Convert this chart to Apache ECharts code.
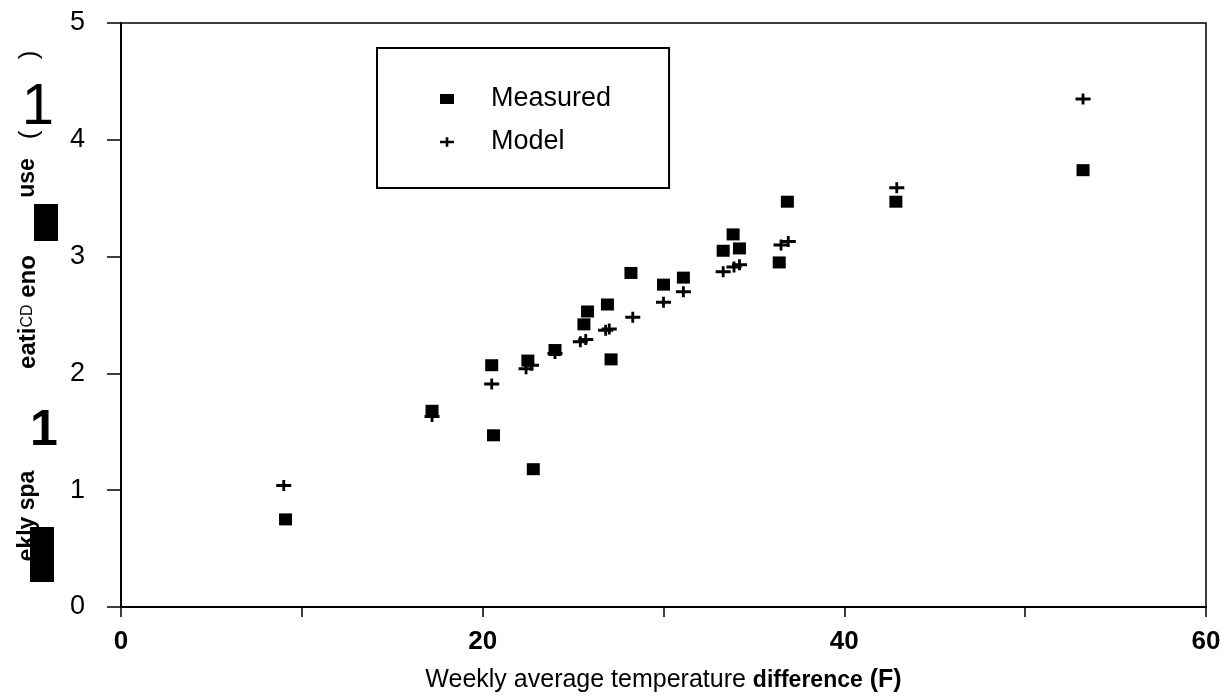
<!DOCTYPE html>
<html>
<head>
<meta charset="utf-8">
<script src="https://cdn.jsdelivr.net/npm/echarts@6/dist/echarts.min.js"></script>
<style>
html,body{margin:0;padding:0;background:#fff;overflow:hidden;}
#chart{width:1228px;height:698px;}
</style>
</head>
<body>
<div id="chart"></div>
<script>
// Data
var measuredX = [9.1, 17.2, 20.5, 20.6, 22.5, 22.8, 24.0, 25.6, 25.8, 26.9, 27.1, 28.2, 30.0, 31.1, 33.3, 33.85, 34.2, 36.4, 36.85, 42.85, 53.2];
var measuredY = [0.75, 1.68, 2.07, 1.47, 2.11, 1.18, 2.20, 2.42, 2.53, 2.59, 2.12, 2.86, 2.76, 2.82, 3.05, 3.19, 3.07, 2.95, 3.47, 3.47, 3.74];
var modelX = [9.0, 17.2, 20.5, 22.4, 22.7, 24.0, 25.4, 25.7, 26.8, 27.0, 28.3, 30.0, 31.1, 33.3, 33.9, 34.2, 36.5, 36.9, 42.9, 53.2];
var modelY = [1.04, 1.63, 1.91, 2.04, 2.07, 2.17, 2.27, 2.29, 2.37, 2.38, 2.48, 2.61, 2.70, 2.87, 2.91, 2.93, 3.10, 3.13, 3.59, 4.35];
var seriesNames = ['Measured', 'Model'];
var xTitle = 'Weekly average temperature ';
var xTitleOdd = 'difference';
var xTitleUnit = ' (F)';

function pairs(xs, ys) { return xs.map(function (x, i) { return [x, ys[i]]; }); }

var plusPath = 'path://M0,4L16,4L16,7L0,7ZM6.5,0L9.5,0L9.5,11L6.5,11Z';
var FONT = '"Liberation Sans", Arial, sans-serif';

var chart = echarts.init(document.getElementById('chart'), null, {renderer: 'canvas', width: 1228, height: 698});
chart.setOption({
  animation: false,
  backgroundColor: '#fff',
  grid: {left: 121, top: 23, width: 1085, height: 586, show: true, borderColor: '#000', borderWidth: 1.5},
  legend: {
    left: 377, top: 48, orient: 'vertical',
    padding: [36, 58, 31, 63], itemGap: 13,
    itemWidth: 14, itemHeight: 10,
    borderColor: '#000', borderWidth: 2,
    data: [{name: seriesNames[0], icon: 'rect'}, {name: seriesNames[1], icon: plusPath}],
    textStyle: {fontFamily: FONT, fontSize: 27, color: '#000', lineHeight: 30, padding: [0, 0, 0, 32]}
  },
  xAxis: {
    type: 'value', min: 0, max: 60, interval: 10,
    axisLine: {show: true, lineStyle: {color: '#000', width: 2}},
    axisTick: {show: true, length: 10, lineStyle: {color: '#000', width: 1.5}},
    splitLine: {show: false},
    axisLabel: {
      margin: 22, color: '#000', fontFamily: FONT, fontSize: 26, fontWeight: 'bold',
      formatter: function (v) { return (v % 20 === 0) ? String(v) : ''; }
    },
    name: '{n|' + xTitle + '}{d|' + xTitleOdd + '}{b|' + xTitleUnit + '}',
    nameLocation: 'middle', nameGap: 61,
    nameTextStyle: {
      rich: {
        n: {fontFamily: FONT, fontSize: 25, color: '#000'},
        d: {fontFamily: FONT, fontSize: 23, color: '#000', fontWeight: 'bold'},
        b: {fontFamily: FONT, fontSize: 25, color: '#000', fontWeight: 'bold'}
      }
    }
  },
  yAxis: {
    type: 'value', min: 0, max: 5, interval: 1,
    axisLine: {show: true, lineStyle: {color: '#000', width: 2}},
    axisTick: {show: true, length: 14, lineStyle: {color: '#000', width: 1.5}},
    splitLine: {show: false},
    axisLabel: {margin: 36, color: '#000', fontFamily: FONT, fontSize: 27}
  },
  series: [
    {
      name: seriesNames[0], type: 'scatter', symbol: 'rect', symbolSize: [13, 12],
      itemStyle: {color: '#000', opacity: 1}, data: pairs(measuredX, measuredY), z: 3
    },
    {
      name: seriesNames[1], type: 'scatter', symbol: plusPath, symbolSize: [15, 11],
      itemStyle: {color: '#000', opacity: 1}, data: pairs(modelX, modelY), z: 4
    }
  ],
  graphic: [
    // garbled y-axis title as it appears in the reference
    {type: 'rect', left: 30, top: 527, shape: {width: 24, height: 55}, style: {fill: '#000'}},
    {type: 'rect', left: 34, top: 204, shape: {width: 24, height: 37}, style: {fill: '#000'}},
    {type: 'text', x: 28, y: 516, rotation: Math.PI / 2,
      style: {text: 'ekly spa', fontFamily: FONT, fontSize: 23, fontWeight: 'bold', fill: '#000', align: 'center', verticalAlign: 'middle'}},
    {type: 'text', x: 44, y: 431,
      style: {text: '1', fontFamily: FONT, fontSize: 50, fontWeight: 'bold', fill: '#000', align: 'center', verticalAlign: 'middle'}},
    {type: 'text', x: 28, y: 312, rotation: Math.PI / 2,
      style: {text: '{b|eati}{s|CD}{b| eno}', align: 'center', verticalAlign: 'middle',
        rich: {b: {fontFamily: FONT, fontSize: 24, fontWeight: 'bold', fill: '#000'},
               s: {fontFamily: FONT, fontSize: 16, fill: '#000'}}}},
    {type: 'text', x: 28, y: 178, rotation: Math.PI / 2,
      style: {text: 'use', fontFamily: FONT, fontSize: 23, fontWeight: 'bold', fill: '#000', align: 'center', verticalAlign: 'middle'}},
    {type: 'text', x: 30, y: 135, rotation: Math.PI / 2,
      style: {text: '(', fontFamily: FONT, fontSize: 26, fill: '#000', align: 'center', verticalAlign: 'middle'}},
    {type: 'text', x: 38, y: 108,
      style: {text: '1', fontFamily: FONT, fontSize: 58, fill: '#000', align: 'center', verticalAlign: 'middle'}},
    {type: 'text', x: 30, y: 55, rotation: Math.PI / 2,
      style: {text: ')', fontFamily: FONT, fontSize: 26, fill: '#000', align: 'center', verticalAlign: 'middle'}}
  ]
});
</script>
</body>
</html>
